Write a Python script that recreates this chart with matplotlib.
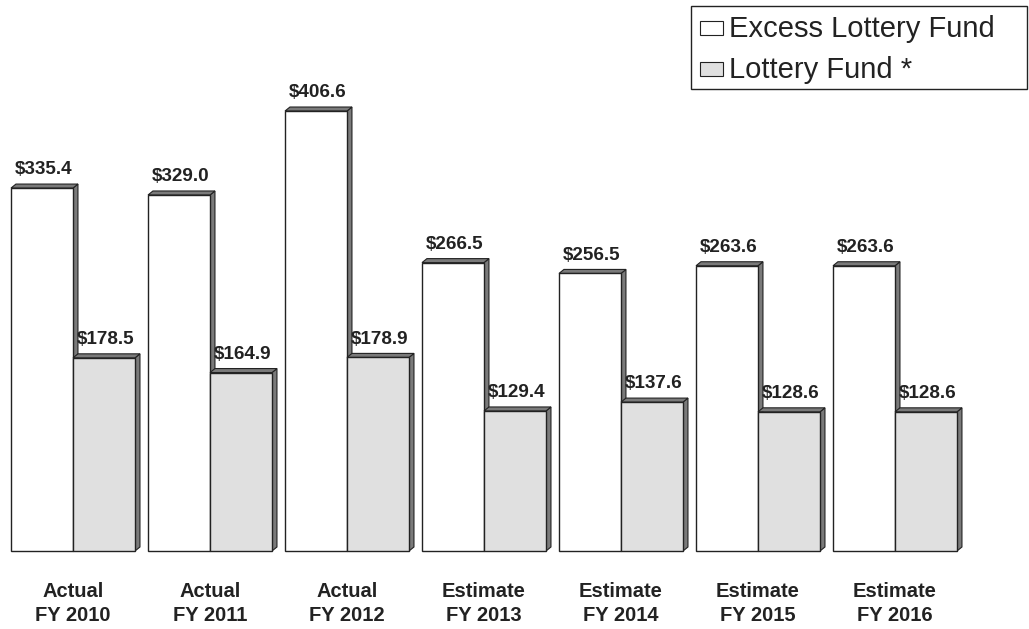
import matplotlib.pyplot as plt
from matplotlib.patches import Polygon, Rectangle
import numpy as np

plt.rcParams['font.family'] = ['Liberation Sans', 'DejaVu Sans']

years = ["Actual\nFY 2010", "Actual\nFY 2011", "Actual\nFY 2012", "Estimate\nFY 2013",
         "Estimate\nFY 2014", "Estimate\nFY 2015", "Estimate\nFY 2016"]
excess = [335.4, 329.0, 406.6, 266.5, 256.5, 263.6, 263.6]
lottery = [178.5, 164.9, 178.9, 129.4, 137.6, 128.6, 128.6]
series = ["Excess Lottery Fund", "Lottery Fund *"]
colors = ['white', '#e0e0e0']

W, H = 1029, 629
fig = plt.figure(figsize=(W / 100, H / 100), dpi=100)
ax = fig.add_axes([0, 0, 1, 1])
ax.set_xlim(-0.533, 6.978)
ax.set_ylim(-72.1, 509.2)
ax.axis('off')

w = 0.4526
dx = 0.036   # depth of the fake 3d
dy = 3.7
edge = '#222222'
side = '#7a7a7a'


def bar3d(x0, h, color):
    ax.add_patch(Polygon([(x0 + w, 0), (x0 + w + dx, dy), (x0 + w + dx, h + dy), (x0 + w, h)],
                         closed=True, facecolor=side, edgecolor=edge, lw=0.8))
    ax.add_patch(Polygon([(x0, h), (x0 + dx, h + dy), (x0 + w + dx, h + dy), (x0 + w, h)],
                         closed=True, facecolor=side, edgecolor=edge, lw=0.8))
    ax.bar(x0, h, width=w, align='edge', color=color, edgecolor=edge, lw=1.0)


x = np.arange(len(years))
for i in x:
    bar3d(i - w, excess[i], colors[0])
    bar3d(i, lottery[i], colors[1])
    ax.text(i - w / 2 + 0.015, excess[i] + 9, f"${excess[i]:.1f}", ha='center', va='bottom',
            fontsize=13.6, fontweight='bold', color='#222222')
    ax.text(i + w / 2 + 0.015, lottery[i] + 9, f"${lottery[i]:.1f}", ha='center', va='bottom',
            fontsize=13.6, fontweight='bold', color='#222222')
    ax.text(i, -48.5, years[i], ha='center', va='center', fontsize=14.5, fontweight='bold',
            color='#222222', linespacing=1.38)

# legend box drawn by hand (pixel layout of the original)
def fx(px):
    return px / W


def fy(py):
    return 1 - py / H


fig.patches.append(Rectangle((fx(691), fy(89)), fx(1027) - fx(691), fy(6) - fy(89),
                             transform=fig.transFigure, facecolor='white', edgecolor=edge,
                             lw=1.0, zorder=5))
for k, (lab, col) in enumerate(zip(series, colors)):
    yc = 27.5 + 41.5 * k
    fig.patches.append(Rectangle((fx(700), fy(yc + 7)), fx(723) - fx(700), fy(yc - 7) - fy(yc + 7),
                                 transform=fig.transFigure, facecolor=col, edgecolor=edge,
                                 lw=0.8, zorder=6))
    fig.text(fx(729), fy(yc + 9.5), lab, ha='left', va='baseline', fontsize=21,
             color='#222222', zorder=7)

fig.savefig('out.png', dpi=100)
